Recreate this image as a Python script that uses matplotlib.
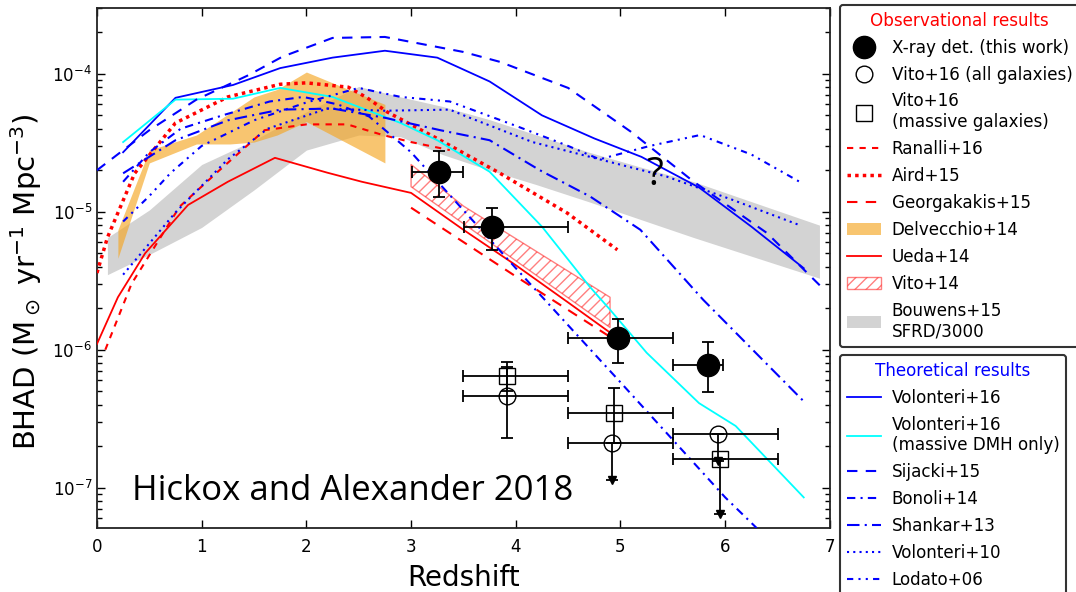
import matplotlib
matplotlib.use("Agg")
import matplotlib.pyplot as plt
from matplotlib.lines import Line2D
from matplotlib.patches import Patch
from matplotlib.ticker import LogLocator, FixedLocator

# ---------------- observational constraints ----------------
# X-ray detected sources (this work)
xray_z = [3.27, 3.77, 4.98, 5.84]
xray_bhad = [1.95e-5, 7.8e-6, 1.22e-6, 7.8e-7]
xray_zlo = [3.01, 3.51, 4.50, 5.50]
xray_zhi = [3.50, 4.50, 5.50, 5.98]
xray_lo = [1.29e-5, 5.3e-6, 8.0e-7, 4.9e-7]
xray_hi = [2.77e-5, 1.07e-5, 1.68e-6, 1.14e-6]

# Vito+16 stacking, redshift bins shared by both samples
vito_bin_lo = [3.5, 4.5, 5.5]
vito_bin_hi = [4.5, 5.5, 6.5]
vito_all_z = [3.92, 4.92, 5.93]
vito_all_bhad = [4.6e-7, 2.1e-7, 2.46e-7]
vito_all_lo = [2.3e-7, 1.14e-7, 1.55e-7]
vito_all_hi = [7.5e-7, 2.1e-7, 2.46e-7]
vito_all_uplim = [False, True, True]
vito_mass_z = [3.92, 4.94, 5.95]
vito_mass_bhad = [6.4e-7, 3.5e-7, 1.62e-7]
vito_mass_lo = [5.0e-7, 2.1e-7, 6.4e-8]
vito_mass_hi = [8.2e-7, 5.3e-7, 1.62e-7]
vito_mass_uplim = [False, False, True]

ranalli_z = [0.08, 0.33, 0.79, 1.17, 1.6, 2.0, 2.39, 2.73, 3.0, 3.37]
ranalli_bhad = [1.0e-6, 3.0e-6, 1.09e-5, 2.0e-5, 3.9e-5, 4.3e-5, 4.3e-5, 3.6e-5, 3.2e-5, 2.8e-5]

aird_z = [0.0, 0.1, 0.36, 0.75, 1.25, 1.75, 2.0, 2.4, 2.58, 2.77, 3.28, 3.85, 4.49, 4.97]
aird_bhad = [3.6e-6, 6.5e-6, 1.9e-5, 4.4e-5, 6.8e-5, 8.4e-5, 8.6e-5, 8.0e-5, 6.7e-5,
             5.3e-5, 3.3e-5, 1.9e-5, 9.8e-6, 5.3e-6]

georgakakis_z = [3.0, 4.0, 4.9]
georgakakis_bhad = [1.07e-5, 3.4e-6, 1.24e-6]

delvecchio_z = [0.2, 0.5, 0.95, 1.27, 1.5, 1.72, 2.0, 2.75]
delvecchio_hi = [7.4e-6, 2.8e-5, 3.6e-5, 5.2e-5, 6.8e-5, 7.7e-5, 1.03e-4, 6.0e-5]
delvecchio_lo = [4.6e-6, 2.26e-5, 3.1e-5, 3.1e-5, 3.2e-5, 3.6e-5, 4.5e-5, 2.26e-5]

ueda_z = [0.0, 0.2, 0.46, 0.87, 1.25, 1.7, 2.2, 2.53, 3.0, 3.5, 4.0, 4.5, 4.95]
ueda_bhad = [1.1e-6, 2.4e-6, 5.0e-6, 1.12e-5, 1.65e-5, 2.46e-5, 1.92e-5, 1.65e-5,
             1.37e-5, 7.4e-6, 4.1e-6, 2.2e-6, 1.25e-6]

vito14_z = [3.0, 3.5, 4.9]
vito14_hi = [2.2e-5, 1.1e-5, 2.4e-6]
vito14_lo = [1.52e-5, 8.2e-6, 1.45e-6]

bouwens_z = [0.1, 0.5, 1.0, 1.5, 2.0, 2.5, 2.9, 3.3, 3.75, 4.2, 4.7, 5.2, 5.7, 6.2, 6.9]
bouwens_hi = [6.5e-6, 1.03e-5, 2.2e-5, 3.3e-5, 5.3e-5, 8.1e-5, 6.8e-5, 5.8e-5, 4.65e-5,
              3.6e-5, 2.7e-5, 2.1e-5, 1.65e-5, 1.22e-5, 8.0e-6]
bouwens_lo = [3.5e-6, 4.9e-6, 7.7e-6, 1.44e-5, 2.8e-5, 3.6e-5, 3.5e-5, 2.6e-5, 2.0e-5,
              1.57e-5, 1.18e-5, 8.75e-6, 6.5e-6, 4.9e-6, 3.3e-6]

# ---------------- theoretical models ----------------
volonteri16_z = [0.25, 0.75, 1.3, 1.75, 2.25, 2.75, 3.25, 3.75, 4.25, 4.75, 5.2, 5.75, 6.25, 6.75]
volonteri16_bhad = [2.7e-5, 6.7e-5, 8.3e-5, 1.10e-4, 1.31e-4, 1.47e-4, 1.31e-4, 8.8e-5,
                    5.0e-5, 3.4e-5, 2.5e-5, 1.5e-5, 7.8e-6, 3.9e-6]

volonteri16_dmh_z = [0.25, 0.75, 1.3, 1.75, 2.25, 2.9, 3.25, 3.75, 4.25, 4.7, 4.9, 5.25,
                     5.75, 6.1, 6.75]
volonteri16_dmh_bhad = [3.2e-5, 6.5e-5, 6.6e-5, 7.9e-5, 6.8e-5, 4.4e-5, 3.3e-5, 1.95e-5,
                        7.8e-6, 2.9e-6, 1.95e-6, 9.5e-7, 4.1e-7, 2.8e-7, 8.5e-8]

sijacki_z = [0.0, 0.5, 0.95, 1.45, 1.77, 2.25, 2.75, 3.5, 3.85, 4.5, 5.1, 5.7, 6.4, 6.95]
sijacki_bhad = [2.0e-5, 3.9e-5, 6.5e-5, 9.8e-5, 1.33e-4, 1.82e-4, 1.85e-4, 1.44e-4,
                1.22e-4, 7.9e-5, 3.8e-5, 1.65e-5, 7.0e-6, 2.7e-6]

bonoli_z = [0.25, 0.5, 0.8, 1.2, 1.65, 1.97, 2.3, 2.6, 3.0, 4.0, 5.0, 6.0, 6.3]
bonoli_bhad = [1.65e-5, 2.7e-5, 4.0e-5, 5.0e-5, 6.3e-5, 6.8e-5, 6.0e-5, 4.9e-5, 2.7e-5,
               3.9e-6, 5.8e-7, 8.5e-8, 5.1e-8]

shankar_z = [0.25, 0.75, 1.25, 1.75, 2.25, 2.75, 3.28, 3.75, 4.23, 4.71, 5.19, 5.79, 6.74]
shankar_bhad = [1.9e-5, 3.3e-5, 4.6e-5, 5.5e-5, 5.6e-5, 4.8e-5, 3.9e-5, 3.3e-5, 2.0e-5,
                1.29e-5, 7.4e-6, 2.3e-6, 4.3e-7]

volonteri10_z = [0.25, 0.75, 1.25, 1.63, 2.2, 2.75, 3.37, 3.53, 4.16, 4.8, 5.44, 6.07, 6.71]
volonteri10_bhad = [3.5e-6, 9.9e-6, 2.4e-5, 4.0e-5, 5.6e-5, 5.4e-5, 5.5e-5, 4.9e-5,
                    3.2e-5, 2.4e-5, 1.8e-5, 1.22e-5, 8.0e-6]

lodato_z = [0.25, 0.5, 0.7, 1.0, 1.5, 2.0, 2.5, 2.9, 3.37, 4.0, 4.5, 4.8, 5.28, 5.76,
            6.25, 6.71]
lodato_bhad = [8.5e-6, 1.3e-5, 1.9e-5, 3.0e-5, 4.6e-5, 6.2e-5, 7.9e-5, 6.8e-5, 6.3e-5,
               4.2e-5, 3.0e-5, 2.4e-5, 3.0e-5, 3.6e-5, 2.6e-5, 1.65e-5]

x_ticks = [0, 1, 2, 3, 4, 5, 6, 7]

BLUE = '#0000ff'
RED = '#ff0000'

fig = plt.figure(figsize=(10.76, 5.92), dpi=100)
ax = fig.add_axes([0.0901, 0.1081, 0.6812, 0.8784])
ax.set_yscale('log')
ax.set_xlim(0, 7)
ax.set_ylim(5.1e-8, 3.0e-4)

# bands
ax.fill_between(bouwens_z, bouwens_lo, bouwens_hi, color='#d3d3d3', lw=0, zorder=1)
ax.fill_between(delvecchio_z, delvecchio_lo, delvecchio_hi, color='#f5a623',
                alpha=0.65, lw=0, zorder=2)
plt.rcParams['hatch.linewidth'] = 1.0
ax.fill_between(vito14_z, vito14_lo, vito14_hi, facecolor='none', edgecolor=RED,
                hatch='///', alpha=0.5, lw=1.0, zorder=2)

# observational curves
l_ranalli, = ax.plot(ranalli_z, ranalli_bhad, color=RED, lw=1.5, ls=(0, (3, 3)), zorder=3)
l_aird, = ax.plot(aird_z, aird_bhad, color=RED, lw=2.5, ls=(0, (1, 1.2)), zorder=3)
l_georg, = ax.plot(georgakakis_z, georgakakis_bhad, color=RED, lw=1.5, ls=(0, (5, 4)), zorder=3)
l_ueda, = ax.plot(ueda_z, ueda_bhad, color=RED, lw=1.3, zorder=3)

# models
l_v16, = ax.plot(volonteri16_z, volonteri16_bhad, color=BLUE, lw=1.3, zorder=3)
l_v16d, = ax.plot(volonteri16_dmh_z, volonteri16_dmh_bhad, color='cyan', lw=1.3, zorder=3)
l_sij, = ax.plot(sijacki_z, sijacki_bhad, color=BLUE, lw=1.5, ls=(0, (5, 4)), zorder=3)
l_bon, = ax.plot(bonoli_z, bonoli_bhad, color=BLUE, lw=1.5, ls=(0, (4, 2.5, 1, 2.5)), zorder=3)
l_sha, = ax.plot(shankar_z, shankar_bhad, color=BLUE, lw=1.5, ls=(0, (6, 2.5, 1, 2.5)), zorder=3)
l_v10, = ax.plot(volonteri10_z, volonteri10_bhad, color=BLUE, lw=1.5, ls=(0, (1, 2)), zorder=3)
l_lod, = ax.plot(lodato_z, lodato_bhad, color=BLUE, lw=1.5,
                 ls=(0, (3, 2.5, 1, 2.5, 1, 2.5)), zorder=3)

# data points
def draw_points(z, val, lo, hi, zlo, zhi, uplim, **mk):
    for i in range(len(z)):
        ax.errorbar(z[i], val[i],
                    xerr=[[z[i] - zlo[i]], [zhi[i] - z[i]]],
                    yerr=[[val[i] - lo[i]], [hi[i] - val[i]]],
                    fmt='none', ecolor='k', elinewidth=1.3, capsize=4, capthick=1.3, zorder=4)
        if uplim[i]:
            ax.plot(z[i], lo[i], marker='v', color='k', ms=6, ls='none', zorder=4)
    ax.plot(z, val, ls='none', zorder=5, **mk)

draw_points(vito_all_z, vito_all_bhad, vito_all_lo, vito_all_hi, vito_bin_lo, vito_bin_hi,
            vito_all_uplim, marker='o', ms=12, mfc='none', mec='k', mew=1.0)
draw_points(vito_mass_z, vito_mass_bhad, vito_mass_lo, vito_mass_hi, vito_bin_lo, vito_bin_hi,
            vito_mass_uplim, marker='s', ms=11, mfc='none', mec='k', mew=1.0)
draw_points(xray_z, xray_bhad, xray_lo, xray_hi, xray_zlo, xray_zhi, [False] * 4,
            marker='o', ms=16, mfc='k', mec='k')

# axes styling
ax.xaxis.set_major_locator(FixedLocator(x_ticks))
ax.yaxis.set_major_locator(LogLocator(base=10))
ax.yaxis.set_minor_locator(LogLocator(base=10, subs=range(2, 10)))
ax.tick_params(which='both', direction='in', top=True, right=True, labelsize=12, width=1)
ax.tick_params(axis='x', pad=7)
ax.tick_params(which='major', length=6)
ax.tick_params(which='minor', length=3.5)
for sp in ax.spines.values():
    sp.set_linewidth(1.3)
    sp.set_color('#222222')
ax.set_xlabel('Redshift', fontsize=20, labelpad=6)
ax.set_ylabel(r'BHAD (M$_\odot$ yr$^{-1}$ Mpc$^{-3}$)', fontsize=21, labelpad=6)
ax.yaxis.label.set_y(0.473)

ax.text(0.048, 0.054, 'Hickox and Alexander 2018', transform=ax.transAxes, family='Open Sans',
        fontsize=25, ha='left', va='baseline', color='k')
ax.text(0.761, 0.679, '?', transform=ax.transAxes, family='Open Sans', fontsize=28,
        ha='center', va='center', color='k')

# legends outside the axes
obs_handles = [
    Line2D([], [], ls='none', marker='o', ms=16, mfc='k', mec='k'),
    Line2D([], [], ls='none', marker='o', ms=12, mfc='none', mec='k'),
    Line2D([], [], ls='none', marker='s', ms=12, mfc='none', mec='k'),
    l_ranalli, l_aird, l_georg,
    Patch(facecolor='#f5a623', alpha=0.65, lw=0),
    l_ueda,
    Patch(facecolor='none', edgecolor=RED, hatch='///', alpha=0.5),
    Patch(facecolor='#d3d3d3', lw=0),
]
obs_labels = ['X-ray det. (this work)', 'Vito+16 (all galaxies)', 'Vito+16\n(massive galaxies)',
              'Ranalli+16', 'Aird+15', 'Georgakakis+15', 'Delvecchio+14', 'Ueda+14',
              'Vito+14', 'Bouwens+15\nSFRD/3000']
theo_handles = [l_v16, l_v16d, l_sij, l_bon, l_sha, l_v10, l_lod]
theo_labels = ['Volonteri+16', 'Volonteri+16\n(massive DMH only)', 'Sijacki+15', 'Bonoli+14',
               'Shankar+13', 'Volonteri+10', 'Lodato+06']

leg_kw = dict(loc='upper left', bbox_transform=fig.transFigure, borderaxespad=0,
              fontsize=12.1, title_fontsize=12.1, frameon=True, fancybox=True,
              handlelength=2.05, handletextpad=0.62, labelspacing=0.53, borderpad=0.4,
              framealpha=1, edgecolor='#333333')
leg1 = fig.legend(obs_handles, obs_labels, bbox_to_anchor=(840 / 1076, 1 - 5 / 592),
                  title='Observational results', **leg_kw)
leg1.get_title().set_color('red')
leg1.get_frame().set_linewidth(1.5)
leg2 = fig.legend(theo_handles, theo_labels, bbox_to_anchor=(840 / 1076, 1 - 355 / 592),
                  title='Theoretical results', **leg_kw)
leg2.get_title().set_color('blue')
leg2.get_frame().set_linewidth(1.5)

fig.savefig('out.png', dpi=100, facecolor='white')
